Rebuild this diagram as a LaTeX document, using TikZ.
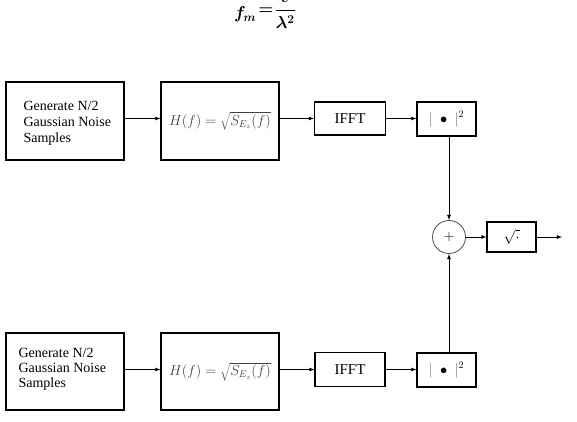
\documentclass[tikz,border=0pt]{standalone}
\usepackage{fontspec}
\setmainfont{Liberation Serif}
\usetikzlibrary{arrows}
\tikzset{
  blk/.style={draw, line width=1.1pt, inner sep=0pt},
  wire/.style={-latex, line width=0.8pt},
  gentext/.style={anchor=west, align=left, font=\fontsize{14}{16}\selectfont},
  filttext/.style={text=black!75, font=\fontsize{14.5}{16}\selectfont}
}
\newcommand{\abssq}{$\textcolor{black!60}{\bigl|}\;\bullet\;\textcolor{black!60}{\bigr|}^2$}
\begin{document}
\begin{tikzpicture}[x=1pt,y=-1pt]
            \useasboundingbox (0,0) rectangle (577,422);
            \clip (0,0) rectangle (577,422);
            % Doppler formula, top cut off by the page edge
            \node[anchor=base west, inner sep=0pt, font=\fontsize{18}{22}\selectfont\boldmath] (fm) at (234,19)
              {$f_{\mkern-1mu m}\mkern2mu\raisebox{4pt}{$=$}\mkern1mu\raisebox{4pt}{$\displaystyle\frac{v}{\lambda^2}$}$};
            % upper branch
            \node[blk, minimum width=118, minimum height=78] (gen1) at (65,121) {};
            \node[gentext] at (20,123) {Generate N/2\\Gaussian Noise\\Samples};
            \node[blk, minimum width=118, minimum height=78, filttext] (filt1) at (220,121) {$H(f)=\sqrt{S_{E_z}(f)}$};
            \node[blk, minimum width=71, minimum height=33, font=\fontsize{15}{16}\selectfont] (ifft1) at (350,118.5) {IFFT};
            \node[blk, minimum width=59, minimum height=34, font=\fontsize{14}{16}\selectfont] (sq1) at (446.5,119) {\abssq};
            % lower branch
            \node[blk, minimum width=118, minimum height=77] (gen2) at (65,371.5) {};
            \node[gentext, font=\fontsize{14}{15}\selectfont] at (15,369) {Generate N/2\\Gaussian Noise\\Samples};
            \node[blk, minimum width=118, minimum height=77, filttext] (filt2) at (220,371.5) {$H(f)=\sqrt{S_{E_z}(f)}$};
            \node[blk, minimum width=70, minimum height=34, font=\fontsize{15}{16}\selectfont] (ifft2) at (350,369.5) {IFFT};
            \node[blk, minimum width=59, minimum height=34, font=\fontsize{14}{16}\selectfont] (sq2) at (446.5,370) {\abssq};
            % summation and square root
            \node[circle, draw=black!70, line width=0.8pt, minimum size=33, inner sep=0pt, font=\fontsize{14}{16}\selectfont] (sum) at (449,237) {$+$};
            \node[blk, minimum width=49, minimum height=30, font=\fontsize{14}{16}\selectfont] (root) at (511.5,237) {$\sqrt{\cdot}$};
            \coordinate (out) at (562,237);
            % connectors
            \draw[wire] (gen1.east |- ifft1) -- (filt1.west |- ifft1);
            \draw[wire] (filt1.east |- ifft1) -- (ifft1.west);
            \draw[wire] (ifft1.east) -- (sq1.west |- ifft1);
            \draw[wire] (gen2.east |- ifft2) -- (filt2.west |- ifft2);
            \draw[wire] (filt2.east |- ifft2) -- (ifft2.west);
            \draw[wire] (ifft2.east) -- (sq2.west |- ifft2);
            \draw[wire] (sq1.south -| sum) -- (sum.north);
            \draw[wire] (sq2.north -| sum) -- (sum.south);
            \draw[wire] (sum.east) -- (root.west);
            \draw[wire] (root.east) -- (out);
        \end{tikzpicture}
\end{document}
